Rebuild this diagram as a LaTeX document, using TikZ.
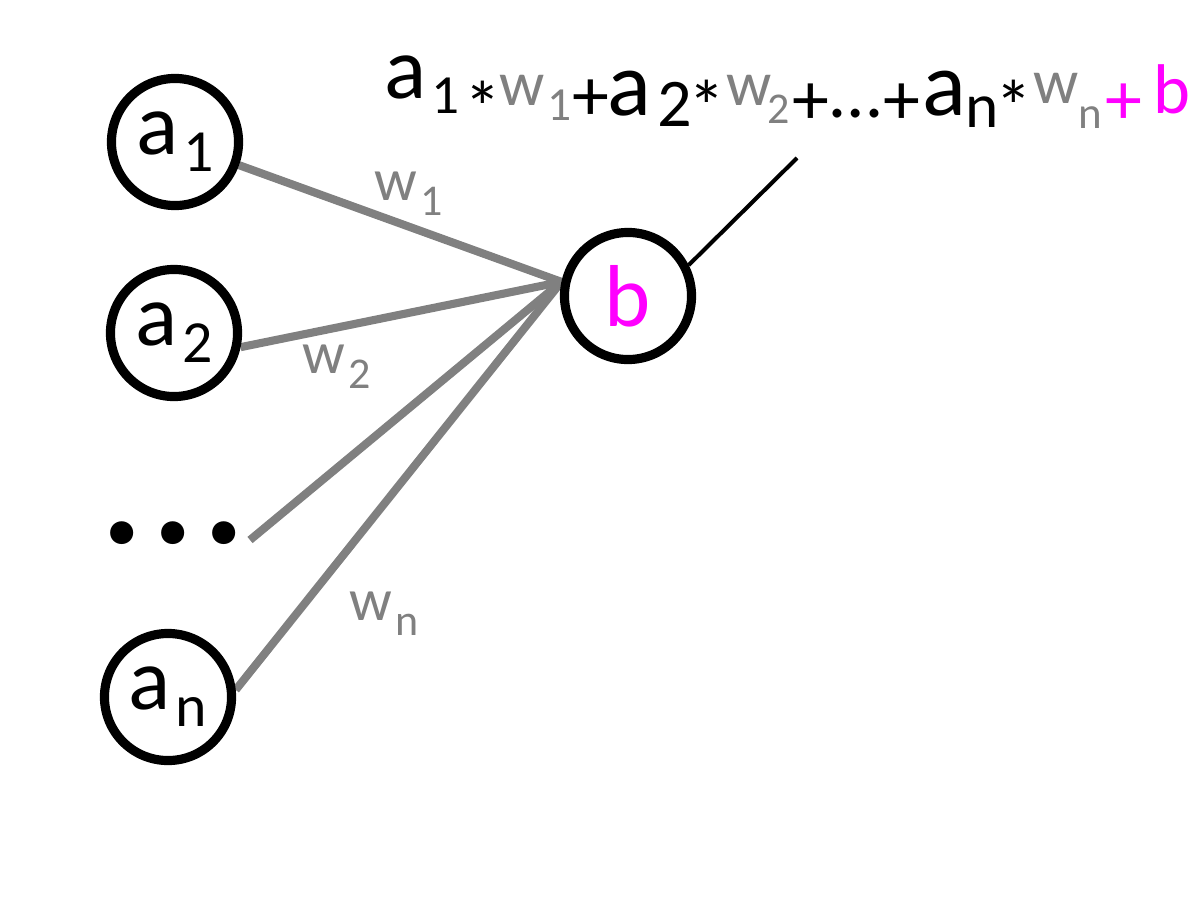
\documentclass[tikz,border=0pt]{standalone}
\usepackage{fontspec}
\setmainfont{Carlito}
\usepackage{xcolor}
\usetikzlibrary{backgrounds}
\definecolor{wgray}{HTML}{808080}
\definecolor{bias}{HTML}{FF00FF}
\newlength{\pxu}\setlength{\pxu}{0.01cm}
% pieces of the weighted sum: advance, drop (px), size (pt), text
\newcommand{\term}[4]{\makebox[#1\pxu][l]{\raisebox{-#2\pxu}{\fontsize{#3}{#3}\selectfont #4}}}
\newcommand{\nsub}[1]{\hspace{5\pxu}\raisebox{-17\pxu}{\fontsize{17}{17}\selectfont #1}}
\newcommand{\wsub}[1]{\hspace{3\pxu}\raisebox{-15\pxu}{\fontsize{12.5}{12.5}\selectfont #1}}

\begin{document}
\begin{tikzpicture}[
  x=0.01cm, y=-0.01cm,
  neuron/.style={circle, draw, line width=2.6pt, minimum size=1.27cm, inner sep=0pt,
                 font=\fontsize{25}{25}\selectfont},
  wire/.style={draw=wgray, line width=2.3pt},
  wlabel/.style={anchor=base west, inner sep=0pt, text=wgray, font=\fontsize{17}{17}\selectfont}
]
\useasboundingbox (0,0) rectangle (1200,900);

% --- inputs and the bias neuron ---
\node[neuron] (a1) at (175,142) {a\nsub{1}};
\node[neuron] (a2) at (174,333) {a\nsub{2}};
\node[neuron] (an) at (168,697) {a\nsub{n}};
\node[inner sep=0pt, font=\fontsize{44}{44}\selectfont\bfseries] (dots) at (173,533)
  {.\hspace{2.8pt}.\hspace{2.8pt}.};
\node[neuron, text=bias] (b) at (628,296) {b};

\coordinate (dotsend) at (250,540);
\coordinate (out) at (797,158);

% --- weights ---
\node[wlabel] (w1) at (374,200) {w\wsub{1}};
\node[wlabel] (w2) at (302,373) {w\wsub{2}};
\node[wlabel] (wn) at (349,620) {w\wsub{n}};

% --- weighted sum ---
\node[anchor=base west, inner sep=0pt] (sum) at (384,98) {%
  \term{47}{0}{25}{a}\term{33}{15}{15.7}{1}\term{35}{35}{21}{*}%
  \textcolor{wgray}{\term{48}{7}{18}{w}\term{25}{22}{13.5}{1}}%
  \term{35}{22}{21}{+}%
  \term{50}{17}{26}{a}\term{31}{28}{19.4}{2}\term{38}{34}{21}{*}%
  \textcolor{wgray}{\term{41}{7}{18}{w}\term{25}{25}{12.5}{2}}%
  \term{38}{26}{21}{+}\term{53}{19}{21}{…}\term{39}{26}{21}{+}%
  \term{43}{17}{26}{a}\term{30}{29}{18}{n}\term{38}{34}{21}{*}%
  \textcolor{wgray}{\term{45}{5}{18}{w}\term{27}{30}{12.8}{n}}%
  \textcolor{bias}{\term{48}{26}{21}{+}\term{40}{15}{20}{b}}};

% --- connections ---
\begin{scope}[on background layer]
  \draw[wire] (a1) -- (b.168);
  \draw[wire] (a2.-12) -- (b.168);
  \draw[wire] (dotsend) -- (b.168);
  \draw[wire] (an.6) -- (b.168);
\end{scope}
\draw[line width=1.15pt] (b.27) -- (out);
\end{tikzpicture}
\end{document}
